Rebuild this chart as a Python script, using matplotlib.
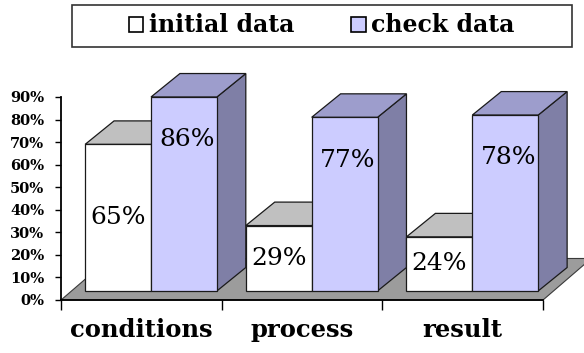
import numpy as np
import matplotlib.pyplot as plt
from matplotlib.patches import Polygon, Rectangle, Patch

categories = ['conditions', 'process', 'result']
series_names = ['initial data', 'check data']
initial_data = [65, 29, 24]
check_data = [86, 77, 78]
y_ticks = list(range(0, 100, 10))

# fake-3D geometry (x in category units, y in percent units)
W = 0.41          # bar width
OFF = 0.06        # bars pushed back from the front edge of the floor
SET_Y = 4.0
DX, DY = 0.18, 10.4   # depth of a bar
FDX, FDY = 2 * OFF + DX, 2 * SET_Y + DY  # depth of the floor
EDGE = '#1a1a1a'

colors = {
    'initial': ('white', '#c0c0c0', '#a0a0a0'),
    'check': ('#ccccff', '#9d9dcc', '#7f7fa6'),
}

fig = plt.figure(figsize=(5.84, 3.53), dpi=100)
ax = fig.add_axes([0, 0, 1, 1])
ax.set_xlim(-0.38, 3.255)
ax.set_ylim(-23.5, 133.0)


def draw_bar(x0, value, front, top, side):
    b = SET_Y
    h = b + value
    side_pts = [(x0 + W, b), (x0 + W + DX, b + DY), (x0 + W + DX, h + DY), (x0 + W, h)]
    top_pts = [(x0, h), (x0 + DX, h + DY), (x0 + W + DX, h + DY), (x0 + W, h)]
    front_pts = [(x0, b), (x0 + W, b), (x0 + W, h), (x0, h)]
    for pts, c in ((side_pts, side), (top_pts, top), (front_pts, front)):
        ax.add_patch(Polygon(pts, closed=True, facecolor=c, edgecolor=EDGE,
                             lw=0.9, joinstyle='miter', zorder=2))


# floor
n = len(categories)
floor = [(0, 0), (n, 0), (n + FDX, FDY), (FDX, FDY)]
ax.add_patch(Polygon(floor, closed=True, facecolor='#9c9c9c',
                     edgecolor='#3a3a3a', lw=0.8, zorder=1))

for i in range(n):
    center = i + 0.5 + OFF
    draw_bar(center - W, initial_data[i], *colors['initial'])
    draw_bar(center, check_data[i], *colors['check'])
    ax.text(center - W / 2, SET_Y + initial_data[i] / 2, f'{initial_data[i]}%',
            ha='center', va='center', family='DejaVu Serif', size=18, zorder=3)
    ax.text(center + W / 2 + 0.02, SET_Y + check_data[i] - 19, f'{check_data[i]}%',
            ha='center', va='center', family='DejaVu Serif', size=18, zorder=3)

# axes
for s in ('top', 'right'):
    ax.spines[s].set_visible(False)
ax.spines['left'].set_position(('data', 0))
ax.spines['left'].set_bounds(0, 90)
ax.spines['bottom'].set_position(('data', 0))
ax.spines['bottom'].set_bounds(0, n)
ax.spines['left'].set_linewidth(1.3)
ax.spines['bottom'].set_linewidth(1.3)

ax.set_yticks(y_ticks)
ax.set_yticklabels([f'{t}%' for t in y_ticks])
ax.tick_params(axis='y', direction='out', length=4, width=1, pad=8, labelsize=10.5)
for lab in ax.get_yticklabels():
    lab.set_family('DejaVu Serif')
    lab.set_weight('bold')

ax.set_xticks(np.arange(n + 1))
ax.set_xticklabels([])
ax.set_xticks(np.arange(n) + 0.5, minor=True)
ax.set_xticklabels(categories, minor=True)
ax.tick_params(axis='x', which='major', direction='out', length=7.5, width=1)
ax.tick_params(axis='x', which='minor', length=0, pad=13, labelsize=17.5)
for lab in ax.get_xticklabels(minor=True):
    lab.set_family('DejaVu Serif')
    lab.set_weight('bold')

# legend with a plain box around it
handles = [Patch(facecolor=colors['initial'][0], edgecolor='black', lw=1.2),
           Patch(facecolor=colors['check'][0], edgecolor='black', lw=1.2)]
fig.legend(handles, series_names, loc='center', bbox_to_anchor=(322 / 584, 1 - 25.5 / 353),
           ncol=2, frameon=False, handlelength=0.6, handleheight=0.6,
           handletextpad=0.25, columnspacing=2.4,
           prop={'family': 'DejaVu Serif', 'weight': 'bold', 'size': 17})
fig.add_artist(Rectangle((72 / 584, 1 - 47 / 353), 500 / 584, 42 / 353,
                         transform=fig.transFigure, fill=False,
                         edgecolor='#333333', lw=1.2))

fig.savefig('out.png', dpi=100)
